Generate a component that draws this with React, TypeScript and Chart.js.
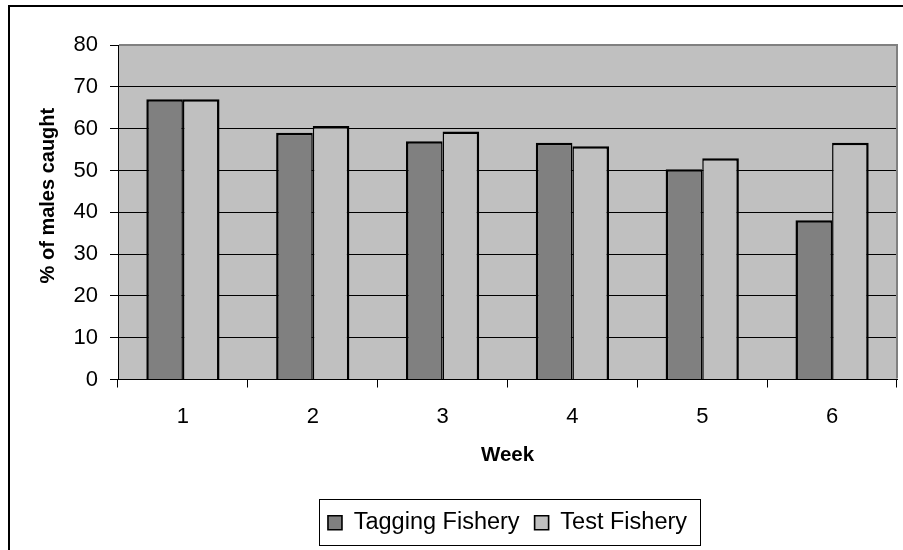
import React, { useEffect, useRef } from "react";
import { Chart, registerables } from "chart.js";

Chart.register(...registerables);

const weeks = ["1", "2", "3", "4", "5", "6"];
const taggingFishery = [67, 59, 57, 56.6, 50.3, 38.1];
const testFishery = [67, 60.6, 59.3, 55.8, 52.9, 56.6];
const seriesNames = ["Tagging Fishery", "Test Fishery"];
const yTitle = "% of males caught";
const xTitle = "Week";
const yMin = 0;
const yMax = 80;
const yStep = 10;

const FONT = "'Liberation Sans', Arial, sans-serif";

const framePlugin = {
  id: "frame",
  beforeDraw(chart: any) {
    const { ctx, chartArea: a, width, height } = chart;
    ctx.save();
    ctx.fillStyle = "#000";
    ctx.fillRect(8, 5, width - 8, 2);
    ctx.fillRect(8, 5, 2, height - 5);
    ctx.fillStyle = "#c0c0c0";
    ctx.fillRect(a.left, a.top, a.right - a.left, a.bottom - a.top);
    ctx.restore();
  },
  afterDraw(chart: any) {
    const { ctx, chartArea: a } = chart;
    ctx.save();
    ctx.strokeStyle = "#808080";
    ctx.lineWidth = 2;
    ctx.beginPath();
    ctx.moveTo(a.left + 1, a.top);
    ctx.lineTo(a.right, a.top);
    ctx.lineTo(a.right, a.bottom - 1);
    ctx.stroke();
    const lg = chart.legend;
    if (lg && lg.legendHitBoxes && lg.legendHitBoxes.length) {
      const hb = lg.legendHitBoxes;
      const l = Math.min(...hb.map((h: any) => h.left)) - 9;
      const r = Math.max(...hb.map((h: any) => h.left + h.width)) + 13;
      const t = Math.min(...hb.map((h: any) => h.top)) - 12;
      const b = Math.max(...hb.map((h: any) => h.top + h.height)) + 10;
      ctx.strokeStyle = "#000";
      ctx.lineWidth = 1;
      ctx.strokeRect(Math.round(l) + 0.5, Math.round(t) + 0.5, Math.round(r - l), Math.round(b - t));
    }
    ctx.restore();
  },
};

export default function App() {
  const ref = useRef<HTMLCanvasElement | null>(null);

  useEffect(() => {
    if (!ref.current) return;
    const chart = new Chart(ref.current, {
      type: "bar",
      data: {
        labels: weeks,
        datasets: [
          {
            label: seriesNames[0],
            data: taggingFishery,
            backgroundColor: "#808080",
            borderColor: "#000",
            borderWidth: { top: 2.5, left: 2.5, right: 1.5, bottom: 0 },
            borderSkipped: false,
            categoryPercentage: 0.564,
            barPercentage: 1,
          },
          {
            label: seriesNames[1],
            data: testFishery,
            backgroundColor: "#c0c0c0",
            borderColor: "#000",
            borderWidth: { top: 2.5, left: 1.5, right: 2.5, bottom: 0 },
            borderSkipped: false,
            categoryPercentage: 0.564,
            barPercentage: 1,
          },
        ],
      },
      options: {
        responsive: true,
        maintainAspectRatio: false,
        animation: false,
        layout: { padding: { left: 10, top: 45, right: 6, bottom: 5.5 } },
        plugins: {
          legend: {
            position: "bottom",
            fullSize: false,
            labels: {
              font: { family: FONT, size: 23.5 },
              color: "#000",
              boxWidth: 14,
              boxHeight: 14,
              padding: 15,
            },
          },
          tooltip: { enabled: false },
        },
        scales: {
          x: {
            grid: {
              display: true,
              drawOnChartArea: false,
              drawTicks: true,
              tickLength: 8,
              color: "#000",
              offset: true,
            },
            border: { color: "#000", width: 1 },
            ticks: { font: { family: FONT, size: 22 }, color: "#000", padding: 16, maxRotation: 0 },
            title: {
              display: true,
              text: xTitle,
              font: { family: FONT, size: 20.5, weight: "bold" },
              color: "#000",
              padding: { top: 0, bottom: 28 },
            },
            afterFit: (s: any) => {
              s.height = 116.5;
            },
          },
          y: {
            min: yMin,
            max: yMax,
            ticks: {
              stepSize: yStep,
              padding: 12,
              font: { family: FONT, size: 22 },
              color: "#000",
            },
            grid: {
              color: (c: any) => (c.tick && c.tick.value === yMax ? "#808080" : "#000"),
              tickColor: "#000",
              tickLength: 8,
              lineWidth: 1,
            },
            border: { color: "#000", width: 1 },
            title: {
              display: true,
              text: "      " + yTitle,
              font: { family: FONT, size: 20, weight: "bold" },
              color: "#000",
              padding: { top: 26, bottom: 0 },
            },
            afterFit: (s: any) => {
              s.width = 108;
            },
          },
        },
      },
      plugins: [framePlugin],
    } as any);
    return () => chart.destroy();
  }, []);

  return (
    <div style={{ position: "absolute", left: 0, top: 0, width: 903, height: 550 }}>
      <canvas ref={ref} />
    </div>
  );
}
